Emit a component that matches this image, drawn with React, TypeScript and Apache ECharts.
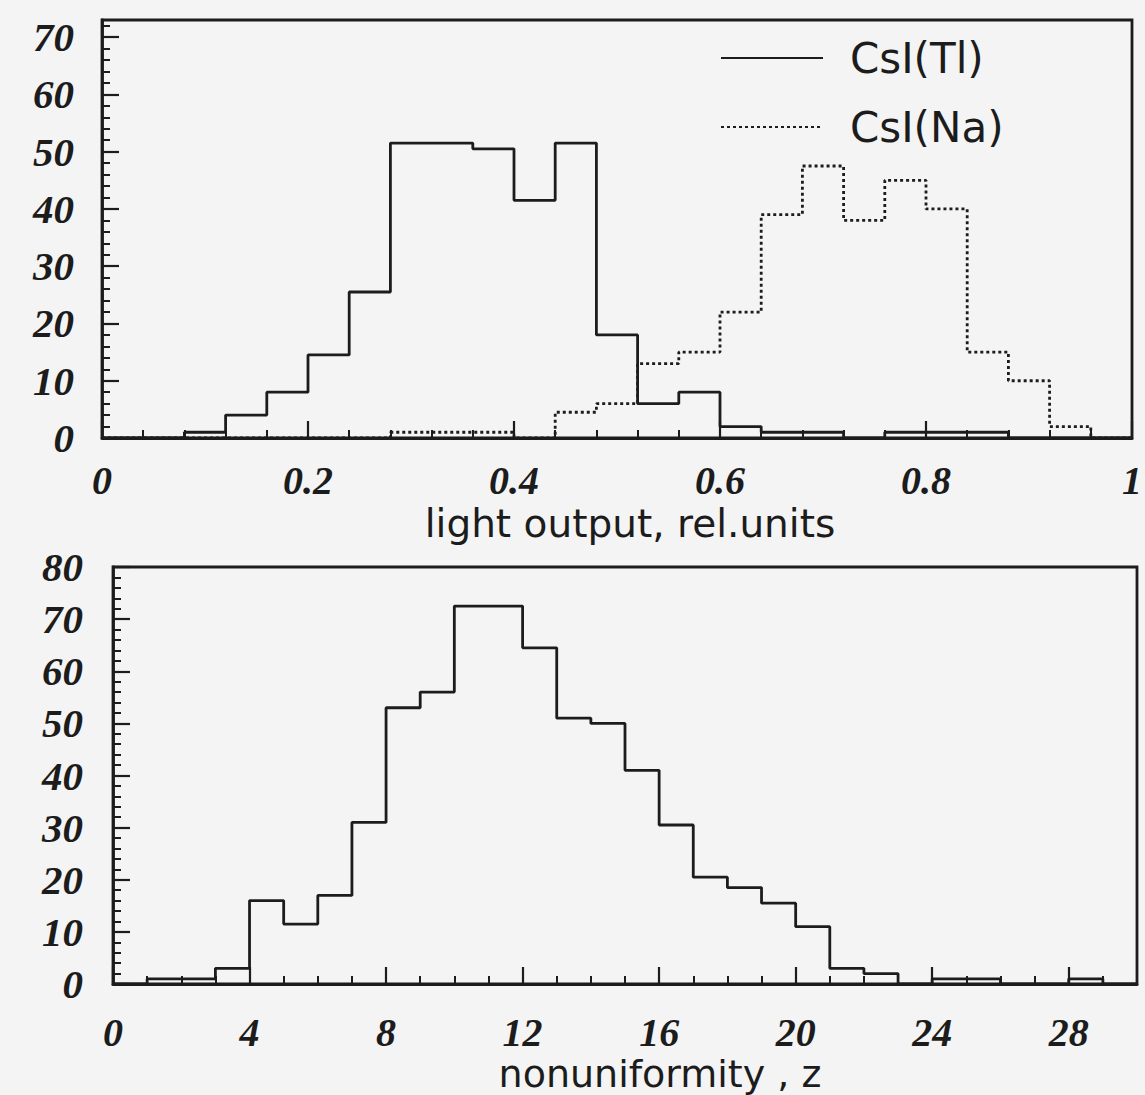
import React, { useEffect, useRef } from "react";
import * as echarts from "echarts";

// ---- data ----
// Top panel: light output histogram, bins of 0.04 rel.units from 0 to 1
const lightBinWidth = 0.04;
const csiTlCounts = [0, 0, 1, 4, 8, 14.5, 25.5, 51.5, 51.5, 50.5, 41.5, 51.5, 18, 6, 8, 2, 1, 1, 0, 1, 1, 1, 0, 0, 0];
const csiNaCounts = [0, 0, 0, 0, 0, 0, 0, 1, 1, 1, 0, 4.5, 6, 13, 15, 22, 39, 47.5, 38, 45, 40, 15, 10, 2, 0];
const seriesNames = ["CsI(Tl)", "CsI(Na)"];
const lightAxisTitle = "light output, rel.units";

// Bottom panel: nonuniformity histogram, bins of 1 from 0 to 30
const zBinWidth = 1;
const zCounts = [0, 1, 1, 3, 16, 11.5, 17, 31, 53, 56, 72.5, 72.5, 64.5, 51, 50, 41, 30.5, 20.5, 18.5, 15.5, 11, 3, 2, 0, 1, 1, 0, 0, 1, 0];
const zAxisTitle = "nonuniformity , z";

const INK = "#1c1c1c";
const BG = "#f4f4f4";

function histPoints(counts: number[], width: number): number[][] {
  const pts = counts.map((c, i) => [i * width, c]);
  pts.push([counts.length * width, counts[counts.length - 1]]);
  return pts;
}

const numFont = {
  fontFamily: "Liberation Serif",
  fontStyle: "italic" as const,
  fontWeight: "bold" as const,
  fontSize: 41,
  lineHeight: 36,
  color: INK,
};

function majorAxis(extra: any) {
  return {
    type: "value",
    splitLine: { show: false },
    axisLine: { show: true, onZero: false, lineStyle: { color: INK, width: 2.8 } },
    axisTick: { show: true, inside: true, length: 17, lineStyle: { color: INK, width: 2.2 } },
    nameMoveOverlap: false,
    ...extra,
  };
}

function minorAxis(extra: any) {
  return {
    type: "value",
    splitLine: { show: false },
    axisLine: { show: false, onZero: false },
    axisLabel: { show: false },
    axisTick: { show: true, inside: true, length: 8, lineStyle: { color: INK, width: 2 } },
    ...extra,
  };
}

export default function App() {
  const ref = useRef<HTMLDivElement>(null);

  useEffect(() => {
    if (!ref.current) return;
    const chart = echarts.init(ref.current, undefined, { renderer: "svg" });
    const option: any = {
      animation: false,
      backgroundColor: BG,
      grid: [
        { left: 102, top: 20, width: 1031, height: 418, show: true, borderColor: INK, borderWidth: 2.8, backgroundColor: "transparent" },
        { left: 113, top: 567, width: 1024, height: 417, show: true, borderColor: INK, borderWidth: 2.8, backgroundColor: "transparent" },
      ],
      legend: {
        data: seriesNames,
        orient: "vertical",
        left: 715,
        top: 32,
        itemWidth: 102,
        itemHeight: 16,
        itemGap: 27,
        selectedMode: false,
        itemStyle: { opacity: 0 },
        textStyle: { fontFamily: "DejaVu Sans", fontSize: 42, color: INK, padding: [0, 0, 0, 22] },
      },
      xAxis: [
        majorAxis({
          gridIndex: 0,
          position: "bottom",
          min: 0,
          max: 1,
          interval: 0.2,
          axisLabel: { ...numFont, fontSize: 40, margin: 24 },
          name: lightAxisTitle,
          nameLocation: "middle",
          nameGap: 65,
          nameTextStyle: { fontFamily: "DejaVu Sans", fontSize: 39, lineHeight: 40, color: INK, padding: [0, 0, 0, 26] },
        }),
        minorAxis({ gridIndex: 0, position: "bottom", min: 0, max: 1, interval: lightBinWidth }),
        majorAxis({
          gridIndex: 1,
          position: "bottom",
          min: 0,
          max: 30,
          interval: 4,
          axisLabel: { ...numFont, fontSize: 40, margin: 30, showMaxLabel: false },
          name: zAxisTitle,
          nameLocation: "middle",
          nameGap: 72,
          nameTextStyle: { fontFamily: "DejaVu Sans", fontSize: 38, lineHeight: 36, color: INK, padding: [0, 0, 0, 70] },
        }),
        minorAxis({ gridIndex: 1, position: "bottom", min: 0, max: 30, interval: zBinWidth }),
      ],
      yAxis: [
        majorAxis({
          gridIndex: 0,
          position: "left",
          min: 0,
          max: 73,
          interval: 10,
          axisLabel: { ...numFont, margin: 28, showMaxLabel: false },
        }),
        minorAxis({ gridIndex: 0, position: "left", min: 0, max: 73, interval: 2 }),
        majorAxis({
          gridIndex: 1,
          position: "left",
          min: 0,
          max: 80,
          interval: 10,
          axisLabel: { ...numFont, margin: 30 },
        }),
        minorAxis({ gridIndex: 1, position: "left", min: 0, max: 80, interval: 2 }),
      ],
      series: [
        {
          name: seriesNames[0],
          type: "line",
          xAxisIndex: 0,
          yAxisIndex: 0,
          step: "end",
          symbol: "none",
          lineStyle: { color: INK, width: 2.8, type: "solid" },
          itemStyle: { color: INK },
          data: histPoints(csiTlCounts, lightBinWidth),
          z: 3,
        },
        {
          name: seriesNames[1],
          type: "line",
          xAxisIndex: 0,
          yAxisIndex: 0,
          step: "end",
          symbol: "none",
          lineStyle: { color: INK, width: 2.8, type: [3, 3] },
          itemStyle: { color: INK },
          data: histPoints(csiNaCounts, lightBinWidth),
          z: 3,
        },
        {
          name: "nonuniformity",
          type: "line",
          xAxisIndex: 2,
          yAxisIndex: 2,
          step: "end",
          symbol: "none",
          lineStyle: { color: INK, width: 2.8, type: "solid" },
          itemStyle: { color: INK },
          data: histPoints(zCounts, zBinWidth),
          z: 3,
        },
      ],
    };
    chart.setOption(option);
    return () => chart.dispose();
  }, []);

  return (
    <div
      ref={ref}
      style={{ position: "absolute", left: 0, top: 0, width: 1145, height: 1095 }}
    />
  );
}
